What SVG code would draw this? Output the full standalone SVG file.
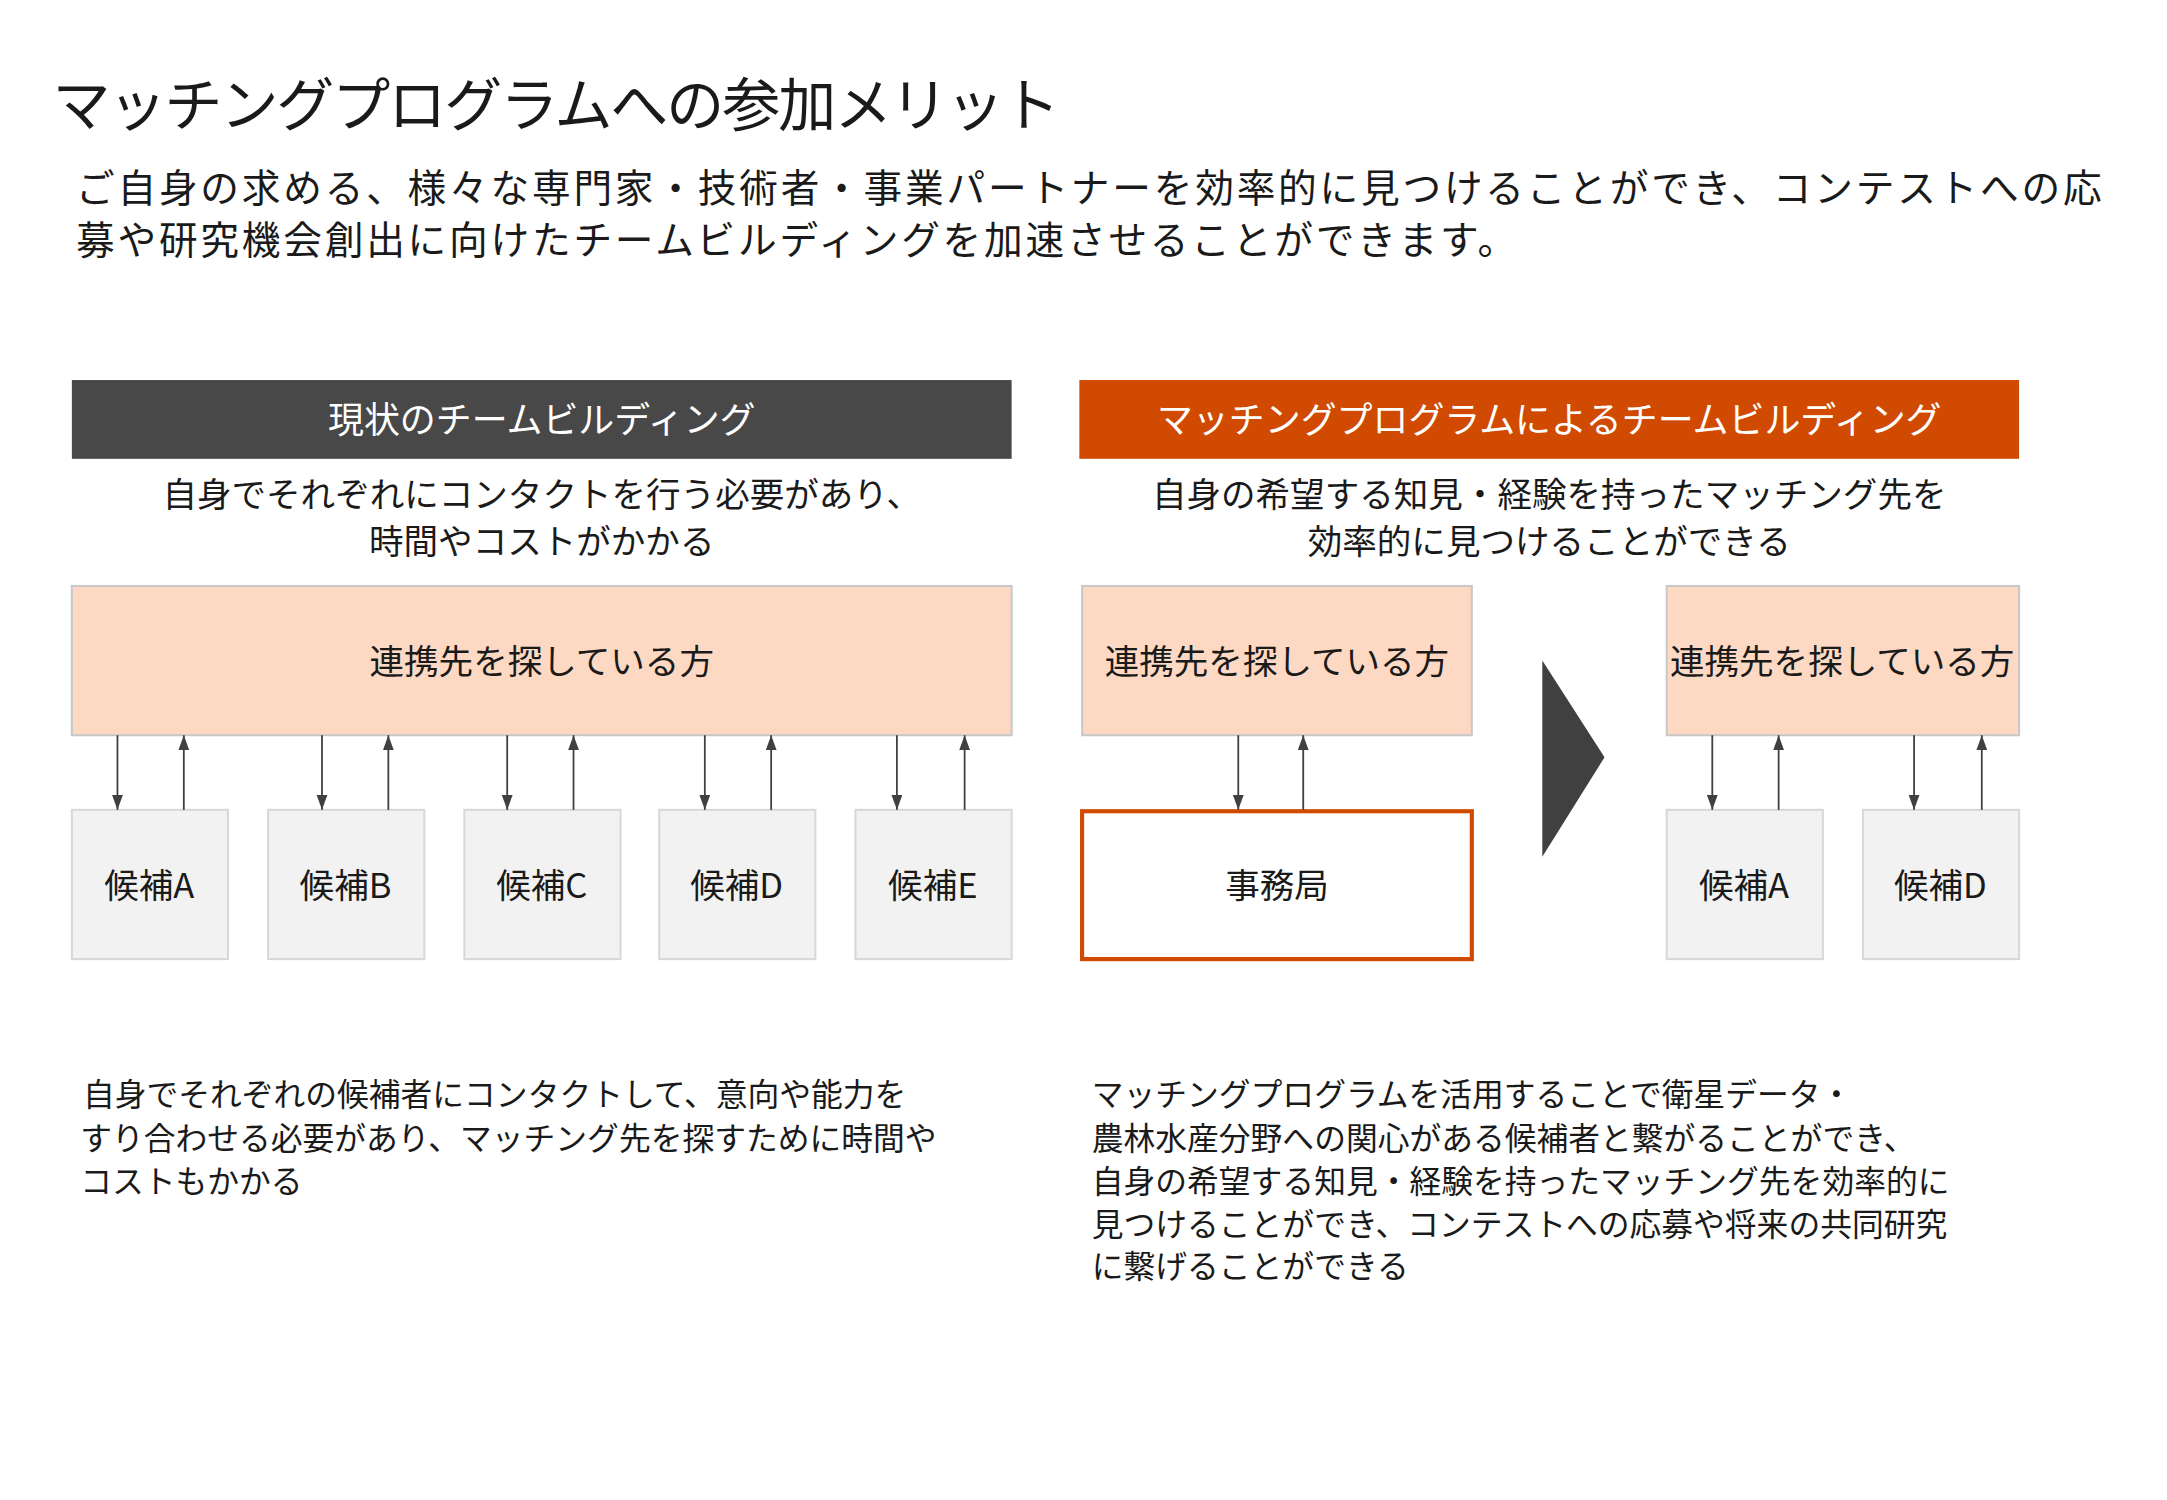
<svg xmlns="http://www.w3.org/2000/svg" width="2167" height="1500" viewBox="0 0 2167 1500">
<style>
text{font-family:"Noto Sans CJK JP","Liberation Sans",sans-serif;fill:#1a1a1a}
.t{font-size:42px;letter-spacing:-1.5px}
.s{font-size:28px;letter-spacing:2px}
.h{font-size:26px;fill:#fff;text-anchor:middle}
.d{font-size:25px;text-anchor:middle}
.p{fill:#FDD9C4;stroke:#c8c8c8;stroke-width:1.5}
.c{fill:#f2f2f2;stroke:#d8d8d8;stroke-width:1.5}
.b{font-size:23px}
.l{stroke:#404040;stroke-width:1.3;marker-end:url(#a)}
</style>
<defs><marker id="a" markerWidth="11" markerHeight="8" refX="11" refY="4" orient="auto" markerUnits="userSpaceOnUse" viewBox="0 0 11 8"><path d="M0,0L11,4L0,8Z" fill="#404040"/></marker></defs>
<g transform="scale(1.382)">
<rect width="1568" height="1086" fill="#fff"/>
<text class="t" x="38" y="91">マッチングプログラムへの参加メリット</text>
<text class="s" x="55" y="146">ご自身の求める、様々な専門家・技術者・事業パートナーを効率的に見つけることができ、コンテストへの応</text>
<text class="s" x="55" y="184">募や研究機会創出に向けたチームビルディングを加速させることができます。</text>
<g id="hdrL"><rect x="52" y="275" width="680" height="57" fill="#484848"/><text class="h" x="392" y="313">現状のチームビルディング</text></g>
<g id="hdrR"><rect x="781" y="275" width="680" height="57" fill="#D04A02"/><text class="h" x="1121" y="313">マッチングプログラムによるチームビルディング</text></g>
<text class="d" x="392" y="367">自身でそれぞれにコンタクトを行う必要があり、</text>
<text class="d" x="392" y="401">時間やコストがかかる</text>
<text class="d" x="1121" y="367">自身の希望する知見・経験を持ったマッチング先を</text>
<text class="d" x="1121" y="401">効率的に見つけることができる</text>
<g id="seekL"><rect class="p" x="52" y="424" width="680" height="108"/><text class="d" x="392" y="488">連携先を探している方</text></g>
<g id="seekM"><rect class="p" x="783" y="424" width="282" height="108"/><text class="d" x="924" y="488">連携先を探している方</text></g>
<g id="seekR"><rect class="p" x="1206" y="424" width="255" height="108"/><text class="d" x="1333" y="488">連携先を探している方</text></g>
<g id="cA"><rect class="c" x="52" y="586" width="113" height="108"/><text class="d" x="108" y="650">候補A</text></g>
<g id="cB"><rect class="c" x="194" y="586" width="113" height="108"/><text class="d" x="250" y="650">候補B</text></g>
<g id="cC"><rect class="c" x="336" y="586" width="113" height="108"/><text class="d" x="392" y="650">候補C</text></g>
<g id="cD"><rect class="c" x="477" y="586" width="113" height="108"/><text class="d" x="533" y="650">候補D</text></g>
<g id="cE"><rect class="c" x="619" y="586" width="113" height="108"/><text class="d" x="675" y="650">候補E</text></g>
<g id="office"><rect x="783" y="587" width="282" height="107" fill="#fff" stroke="#D04A02" stroke-width="3"/><text class="d" x="924" y="650">事務局</text></g>
<g id="rA"><rect class="c" x="1206" y="586" width="113" height="108"/><text class="d" x="1262" y="650">候補A</text></g>
<g id="rD"><rect class="c" x="1348" y="586" width="113" height="108"/><text class="d" x="1404" y="650">候補D</text></g>
<polygon id="chev" points="1116,478 1161,548 1116,620" fill="#404040"/>
<g id="connectors">
<line class="l" x1="85" y1="532" x2="85" y2="586"/><line class="l" x1="133" y1="586" x2="133" y2="532"/>
<line class="l" x1="233" y1="532" x2="233" y2="586"/><line class="l" x1="281" y1="586" x2="281" y2="532"/>
<line class="l" x1="367" y1="532" x2="367" y2="586"/><line class="l" x1="415" y1="586" x2="415" y2="532"/>
<line class="l" x1="510" y1="532" x2="510" y2="586"/><line class="l" x1="558" y1="586" x2="558" y2="532"/>
<line class="l" x1="649" y1="532" x2="649" y2="586"/><line class="l" x1="698" y1="586" x2="698" y2="532"/>
<line class="l" x1="896" y1="532" x2="896" y2="586"/><line class="l" x1="943" y1="586" x2="943" y2="532"/>
<line class="l" x1="1239" y1="532" x2="1239" y2="586"/><line class="l" x1="1287" y1="586" x2="1287" y2="532"/>
<line class="l" x1="1385" y1="532" x2="1385" y2="586"/><line class="l" x1="1434" y1="586" x2="1434" y2="532"/>
</g>
<text class="b" x="60" y="800">自身でそれぞれの候補者にコンタクトして、意向や能力を</text>
<text class="b" x="58" y="832">すり合わせる必要があり、マッチング先を探すために時間や</text>
<text class="b" x="58" y="863">コストもかかる</text>
<text class="b" x="790" y="800">マッチングプログラムを活用することで衛星データ・</text>
<text class="b" x="790" y="832">農林水産分野への関心がある候補者と繋がることができ、</text>
<text class="b" x="790" y="863">自身の希望する知見・経験を持ったマッチング先を効率的に</text>
<text class="b" x="790" y="894">見つけることができ、コンテストへの応募や将来の共同研究</text>
<text class="b" x="790" y="925">に繋げることができる</text>
</g>
</svg>
